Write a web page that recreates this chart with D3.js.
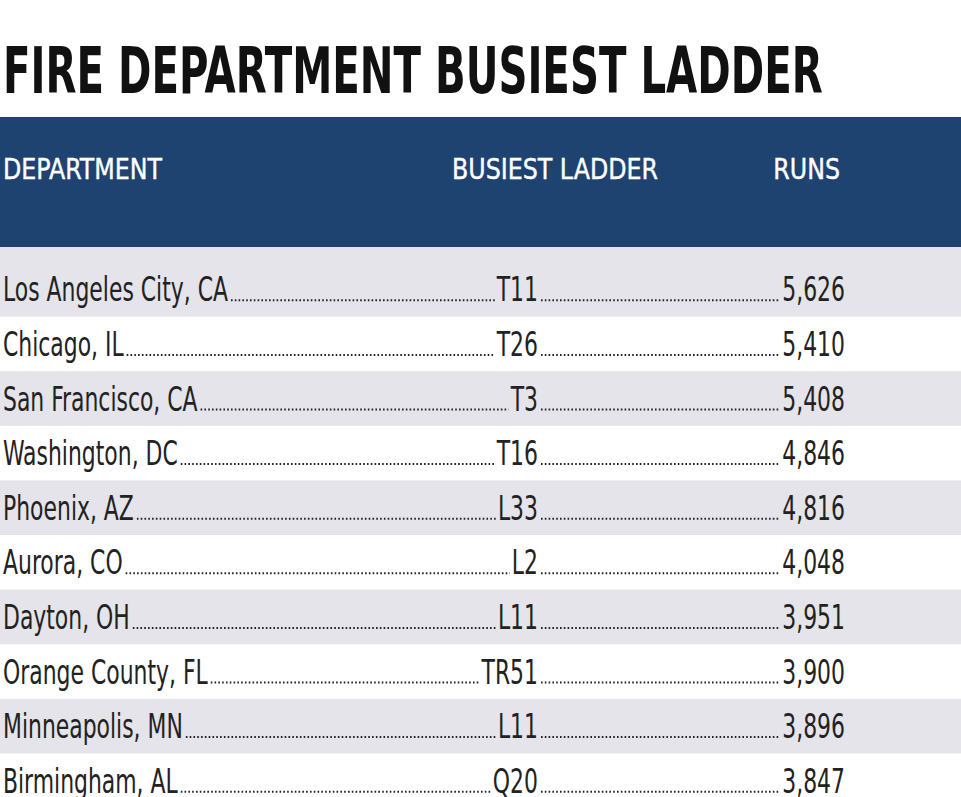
<!DOCTYPE html><html><head><meta charset="utf-8">
<script src="https://cdn.jsdelivr.net/npm/d3@7"></script>
<style>body{margin:0;background:#fff}svg{display:block}</style></head><body>
<svg id="c" width="961" height="797"></svg>
<script>
const departments=["Los Angeles City, CA","Chicago, IL","San Francisco, CA","Washington, DC","Phoenix, AZ","Aurora, CO","Dayton, OH","Orange County, FL","Minneapolis, MN","Birmingham, AL"];
const ladders=["T11","T26","T3","T16","L33","L2","L11","TR51","L11","Q20"];
const runs=[5626,5410,5408,4846,4816,4048,3951,3900,3896,3847];
const headers=["DEPARTMENT","BUSIEST LADDER","RUNS"];
const title="FIRE DEPARTMENT BUSIEST LADDER";

const svg=d3.select("#c");
const F="'DejaVu Sans Condensed','Liberation Sans Narrow',sans-serif";
const y=d3.scaleBand().domain(d3.range(departments.length)).range([262,808]);
const fmt=d3.format(",");

function txt(s,size,weight,fill){return svg.append("text").text(s).attr("font-family",F).attr("font-size",size).attr("font-weight",weight).attr("fill",fill);}
function place(t,x,yy,k,anchor){const w=t.node().getComputedTextLength()*k;const x0=anchor==="end"?x-w:x;t.attr("transform",`translate(${x0},${yy}) scale(${k},1)`);return [x0,x0+w];}

const tt=txt(title,64,"bold","#111");
const kt=820/tt.node().getComputedTextLength();
place(tt,3,93,kt,"start");

svg.append("rect").attr("x",0).attr("y",117).attr("width",961).attr("height",130).attr("fill","#1f4370");
const hk=(()=>{const t=txt(headers[0],29,"normal","#fff").attr("stroke","#fff").attr("stroke-width",0.4);const k=159/t.node().getComputedTextLength();place(t,3,179,k,"start");return k;})();
place(txt(headers[1],29,"normal","#fff").attr("stroke","#fff").attr("stroke-width",0.4),452,179,hk,"start");
place(txt(headers[2],29,"normal","#fff").attr("stroke","#fff").attr("stroke-width",0.4),840,179,hk,"end");

departments.forEach((d,i)=>{if(i%2===0){const top=i===0?247:y(i);svg.insert("rect","text").attr("x",0).attr("y",top).attr("width",961).attr("height",y(i)+y.bandwidth()-top).attr("fill","#e4e4ea");}});

const k=(()=>{const t=txt(departments[0],33,"normal","#222");const kk=225/t.node().getComputedTextLength();t.remove();return kk;})();
function dots(x1,x2,yy){if(x2-x1<4)return;svg.append("line").attr("x1",x1).attr("x2",x2).attr("y1",yy).attr("y2",yy).attr("stroke","#222").attr("stroke-width",2).attr("stroke-dasharray","1.6,2.2");}
departments.forEach((d,i)=>{
  const base=y(i)+y.bandwidth()/2+12;
  const a=place(txt(d,33,"normal","#222"),3,base,k,"start");
  const b=place(txt(ladders[i],33,"normal","#222"),538,base,k,"end");
  const c=place(txt(fmt(runs[i]),33,"normal","#222"),845,base,k,"end");
  dots(a[1]+3,b[0]-2,base-1);
  dots(b[1]+3,c[0]-2,base-1);
});
</script></body></html>
